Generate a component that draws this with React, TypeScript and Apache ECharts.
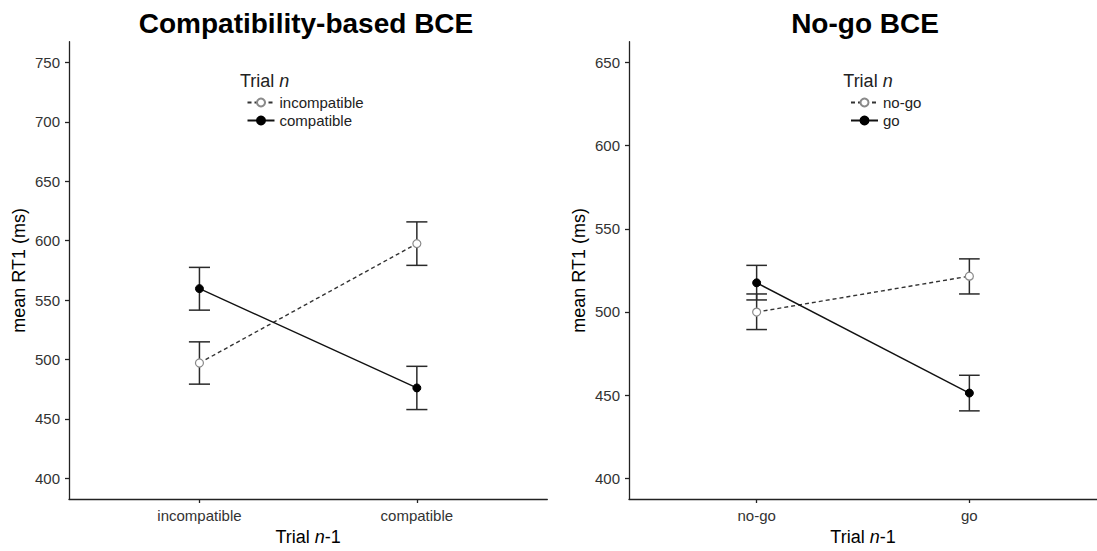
import React, { useEffect, useRef } from "react";
import * as echarts from "echarts";

// ---- Data ----
const leftCategories = ["incompatible", "compatible"];
const leftSeriesNames = ["incompatible", "compatible"];
const leftIncompatibleMean = [497.0, 597.5];
const leftIncompatibleLow = [479.2, 579.2];
const leftIncompatibleHigh = [514.8, 615.8];
const leftCompatibleMean = [559.6, 476.0];
const leftCompatibleLow = [541.5, 457.8];
const leftCompatibleHigh = [577.5, 494.2];
const leftYTicks = [400, 450, 500, 550, 600, 650, 700, 750];

const rightCategories = ["no-go", "go"];
const rightSeriesNames = ["no-go", "go"];
const rightNogoMean = [499.9, 521.5];
const rightNogoLow = [489.4, 510.8];
const rightNogoHigh = [510.8, 531.9];
const rightGoMean = [517.5, 451.2];
const rightGoLow = [507.2, 440.5];
const rightGoHigh = [528.0, 461.9];
const rightYTicks = [400, 450, 500, 550, 600, 650];

const titles = ["Compatibility-based BCE", "No-go BCE"];

const FONT = "'Liberation Sans', Arial, Helvetica, sans-serif";
const AXIS_COLOR = "#222";
const TEXT_COLOR = "#333";

function pts(means: number[]) {
  return means.map((m, i) => [i + 1, m]);
}
function bars(low: number[], high: number[]) {
  return low.map((l, i) => [i + 1, l, high[i]]);
}

function errorBarSeries(data: number[][], xAxisIndex: number, yAxisIndex: number) {
  return {
    type: "custom",
    xAxisIndex,
    yAxisIndex,
    z: 2,
    silent: true,
    data,
    renderItem: (params: any, api: any) => {
      const x = api.value(0);
      const lo = api.coord([x, api.value(1)]);
      const hi = api.coord([x, api.value(2)]);
      const hw = api.size([0.097, 0])[0] / 2;
      const style = { stroke: "#2a2a2a", lineWidth: 1.5 };
      return {
        type: "group",
        children: [
          { type: "line", shape: { x1: lo[0], y1: lo[1], x2: hi[0], y2: hi[1] }, style },
          { type: "line", shape: { x1: lo[0] - hw, y1: lo[1], x2: lo[0] + hw, y2: lo[1] }, style },
          { type: "line", shape: { x1: hi[0] - hw, y1: hi[1], x2: hi[0] + hw, y2: hi[1] }, style },
        ],
      };
    },
  };
}

function openSeries(name: string, data: number[][], idx: number) {
  return {
    type: "line",
    name,
    xAxisIndex: idx,
    yAxisIndex: idx,
    z: 3,
    data,
    symbol: "circle",
    symbolSize: 8,
    itemStyle: { color: "#ffffff", borderColor: "#8a8a8a", borderWidth: 1.2 },
    lineStyle: { color: "#333", width: 1.4, type: [4, 3] },
  };
}
function filledSeries(name: string, data: number[][], idx: number) {
  return {
    type: "line",
    name,
    xAxisIndex: idx,
    yAxisIndex: idx,
    z: 3,
    data,
    symbol: "circle",
    symbolSize: 8,
    itemStyle: { color: "#000000", borderColor: "#000000", borderWidth: 1 },
    lineStyle: { color: "#111", width: 1.4, type: "solid" },
  };
}

function xAxis(idx: number, cats: string[]) {
  return {
    type: "value",
    gridIndex: idx,
    min: 0.4,
    max: 2.6,
    name: "{a|Trial }{b|n}{a|-1}",
    nameLocation: "middle",
    nameGap: 29,
    nameTextStyle: {
      rich: {
        a: { fontFamily: FONT, fontSize: 18, color: "#000" },
        b: { fontFamily: FONT, fontSize: 18, color: "#000", fontStyle: "italic" },
      },
    },
    axisLine: { show: true, lineStyle: { color: AXIS_COLOR, width: 1.3 } },
    axisTick: { show: true, length: 4, customValues: [1, 2], lineStyle: { color: AXIS_COLOR, width: 1.3 } },
    axisLabel: {
      customValues: [1, 2],
      formatter: (v: number) => cats[Math.round(v) - 1] ?? "",
      fontFamily: FONT,
      fontSize: 15,
      color: TEXT_COLOR,
      margin: 9,
    },
    splitLine: { show: false },
  };
}

function yAxis(idx: number, min: number, max: number, ticks: number[]) {
  return {
    type: "value",
    gridIndex: idx,
    min,
    max,
    name: "mean RT1 (ms)",
    nameLocation: "middle",
    nameGap: 41,
    nameTextStyle: { fontFamily: FONT, fontSize: 18, color: "#000" },
    axisLine: { show: true, lineStyle: { color: AXIS_COLOR, width: 1.3 } },
    axisTick: { show: true, length: 4, customValues: ticks, lineStyle: { color: AXIS_COLOR, width: 1.3 } },
    axisLabel: { customValues: ticks, fontFamily: FONT, fontSize: 15, color: TEXT_COLOR, margin: 9 },
    splitLine: { show: false },
  };
}

function legend(left: number, names: string[]) {
  return {
    left,
    top: 90,
    orient: "vertical",
    data: names,
    itemWidth: 27,
    itemHeight: 10,
    itemGap: 3,
    selectedMode: false,
    textStyle: { fontFamily: FONT, fontSize: 15, color: "#222" },
  };
}

function legendTitle(x: number) {
  return {
    type: "text",
    x,
    y: 81,
    style: {
      text: "{a|Trial }{b|n}",
      verticalAlign: "middle",
      textVerticalAlign: "middle",
      rich: {
        a: { fontFamily: FONT, fontSize: 18, fill: "#222", color: "#222" },
        b: { fontFamily: FONT, fontSize: 18, fill: "#222", color: "#222", fontStyle: "italic" },
      },
    },
  };
}

function panelTitle(text: string, x: number) {
  return {
    type: "text",
    x,
    y: 23,
    style: {
      text,
      textAlign: "center",
      textVerticalAlign: "middle",
      verticalAlign: "middle",
      fontFamily: FONT,
      fontSize: 28,
      fontWeight: "bold",
      fill: "#000",
    },
  };
}

export default function App() {
  const ref = useRef<HTMLDivElement>(null);
  useEffect(() => {
    if (!ref.current) return;
    const chart = echarts.init(ref.current, undefined, { renderer: "svg" });
    chart.setOption({
      animation: false,
      backgroundColor: "#ffffff",
      grid: [
        { left: 69, top: 41.7, width: 478.3, height: 463.3, containLabel: false },
        { left: 629, top: 41.7, width: 478.3, height: 463.3, containLabel: false },
      ],
      xAxis: [xAxis(0, leftCategories), xAxis(1, rightCategories)],
      yAxis: [yAxis(0, 382.5, 767.5, leftYTicks), yAxis(1, 387.5, 662.5, rightYTicks)],
      legend: [legend(241.5, leftSeriesNames), legend(845, rightSeriesNames)],
      graphic: [
        panelTitle(titles[0], 306),
        panelTitle(titles[1], 865),
        legendTitle(240),
        legendTitle(843.3),
      ],
      series: [
        errorBarSeries(bars(leftIncompatibleLow, leftIncompatibleHigh), 0, 0),
        errorBarSeries(bars(leftCompatibleLow, leftCompatibleHigh), 0, 0),
        openSeries(leftSeriesNames[0], pts(leftIncompatibleMean), 0),
        filledSeries(leftSeriesNames[1], pts(leftCompatibleMean), 0),
        errorBarSeries(bars(rightNogoLow, rightNogoHigh), 1, 1),
        errorBarSeries(bars(rightGoLow, rightGoHigh), 1, 1),
        openSeries(rightSeriesNames[0], pts(rightNogoMean), 1),
        filledSeries(rightSeriesNames[1], pts(rightGoMean), 1),
      ],
    });
    return () => chart.dispose();
  }, []);
  return (
    <div
      ref={ref}
      style={{ position: "fixed", left: 0, top: 0, width: 1097, height: 551, background: "#fff" }}
    />
  );
}
